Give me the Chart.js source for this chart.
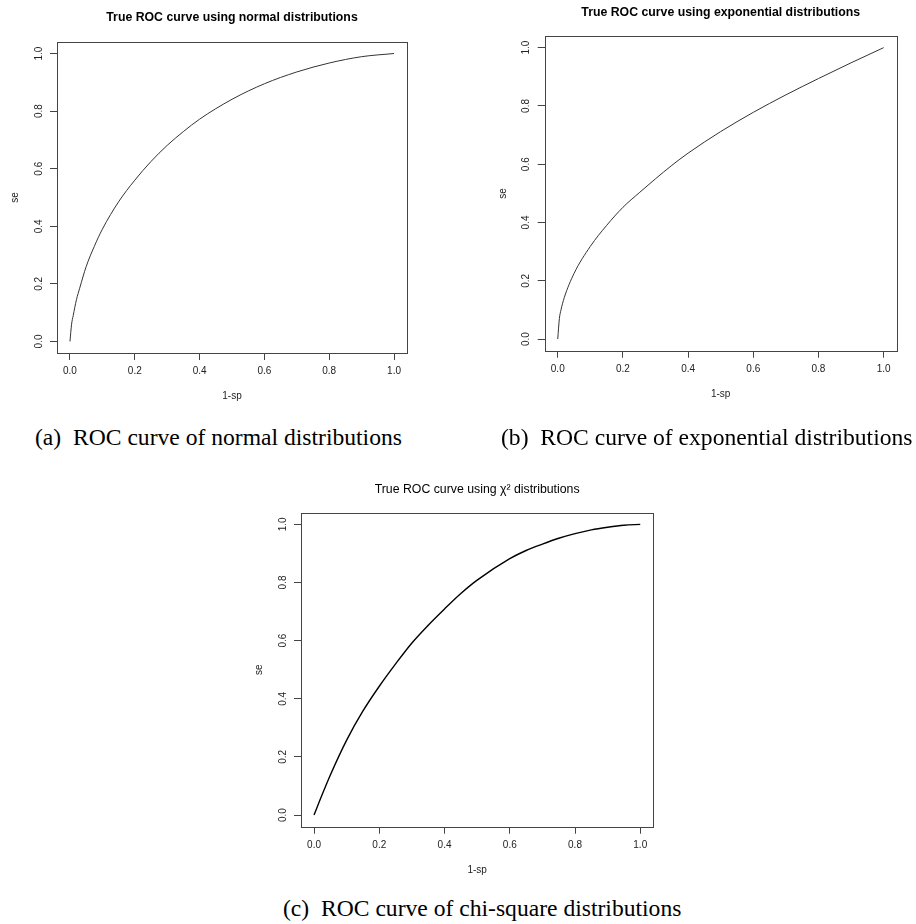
<!DOCTYPE html>
<html>
<head>
<meta charset="utf-8">
<script src="https://cdn.jsdelivr.net/npm/chart.js@4.4.1/dist/chart.umd.min.js"></script>
<style>
body { margin: 0; background: #fff; width: 916px; height: 924px; position: relative; overflow: hidden; }
canvas { position: absolute; }
.cap { position: absolute; font-family: "Liberation Serif", "Times New Roman", serif; font-size: 23.6px; line-height: 26px; color: #000; white-space: nowrap; }
</style>
</head>
<body>
<canvas id="rocNormal" width="460" height="420" style="left:0;top:0"></canvas>
<canvas id="rocExp" width="460" height="420" style="left:456px;top:0"></canvas>
<canvas id="rocChi" width="460" height="425" style="left:230px;top:460px"></canvas>
<div class="cap" style="left:35px;top:424px">(a)&nbsp; ROC curve of normal distributions</div>
<div class="cap" style="left:501px;top:424px">(b)&nbsp; ROC curve of exponential distributions</div>
<div class="cap" style="left:283px;top:895px">(c)&nbsp; ROC curve of chi-square distributions</div>
<script>
const fprNormal = [0, 0.005, 0.01, 0.02, 0.03, 0.05, 0.075, 0.1, 0.15, 0.2, 0.25, 0.3, 0.35, 0.4, 0.5, 0.6, 0.7, 0.8, 0.9, 1.0];
const seNormal  = [0, 0.06, 0.09, 0.145, 0.185, 0.26, 0.33, 0.39, 0.485, 0.56, 0.625, 0.681, 0.729, 0.772, 0.841, 0.895, 0.936, 0.967, 0.989, 1.0];

const fprExp = [0, 0.005, 0.01, 0.02, 0.05, 0.1, 0.15, 0.2, 0.25, 0.3, 0.35, 0.4, 0.5, 0.6, 0.7, 0.8, 0.9, 1.0];
const seExp  = [0, 0.07, 0.10, 0.142, 0.225, 0.318, 0.39, 0.452, 0.502, 0.55, 0.596, 0.638, 0.712, 0.778, 0.838, 0.894, 0.948, 1.0];

const fprChi = [0, 0.02, 0.05, 0.1, 0.15, 0.2, 0.25, 0.3, 0.35, 0.4, 0.45, 0.5, 0.6, 0.65, 0.7, 0.75, 0.8, 0.85, 0.9, 0.95, 1.0];
const seChi  = [0, 0.057, 0.138, 0.258, 0.358, 0.443, 0.52, 0.592, 0.653, 0.709, 0.762, 0.808, 0.882, 0.91, 0.932, 0.952, 0.968, 0.981, 0.99, 0.997, 1.0];

const tickValues = [0, 0.2, 0.4, 0.6, 0.8, 1.0];
const tickLabels = ['0.0', '0.2', '0.4', '0.6', '0.8', '1.0'];

const sans = '"Liberation Sans", Arial, Helvetica, sans-serif';

// box around the plot, rotated y labels and the main title (R style)
const rocFrame = {
    id: 'rocFrame',
    afterDraw(chart, args, opts) {
        const ctx = chart.ctx;
        const a = chart.chartArea;
        const y = chart.scales.y;
        ctx.save();
        ctx.strokeStyle = '#444';
        ctx.lineWidth = 1;
        ctx.strokeRect(Math.round(a.left) + 0.5, Math.round(a.top) + 0.5,
            Math.round(a.right - a.left), Math.round(a.bottom - a.top));

        ctx.fillStyle = '#222';
        ctx.font = '10px ' + sans;
        ctx.textAlign = 'center';
        ctx.textBaseline = 'middle';
        tickValues.forEach((v, i) => {
            ctx.save();
            ctx.translate(a.left - 18, y.getPixelForValue(v));
            ctx.rotate(-Math.PI / 2);
            ctx.fillText(tickLabels[i], 0, 0);
            ctx.restore();
        });

        ctx.fillStyle = '#000';
        ctx.font = (opts.bold ? 'bold ' : '') + '12.3px ' + sans;
        ctx.fillText(opts.text, (a.left + a.right) / 2, a.top - opts.gap);
        ctx.restore();
    }
};

function rocChart(id, fpr, se, o) {
    const canvas = document.getElementById(id);
    const W = canvas.width, H = canvas.height;
    const setTicks = scale => { scale.ticks = tickValues.map(v => ({ value: v })); };
    return new Chart(canvas, {
        type: 'scatter',
        data: {
            datasets: [{
                data: fpr.map((x, i) => ({ x: x, y: se[i] })),
                showLine: true,
                borderColor: o.color,
                borderWidth: o.width,
                pointRadius: 0,
                cubicInterpolationMode: 'monotone'
            }]
        },
        options: {
            responsive: false,
            animation: false,
            layout: { padding: { left: 0, top: o.top, right: W - o.right, bottom: 0 } },
            plugins: {
                legend: { display: false },
                tooltip: { enabled: false },
                rocFrame: { text: o.title, bold: o.bold, gap: o.gap }
            },
            scales: {
                x: {
                    type: 'linear', min: -0.04, max: 1.04,
                    afterBuildTicks: setTicks,
                    afterFit: s => { s.height = H - o.bottom; },
                    grid: { drawOnChartArea: false, drawTicks: true, tickLength: 7, color: '#444' },
                    border: { display: false },
                    ticks: {
                        padding: 5.7, color: '#222', maxRotation: 0, autoSkip: false,
                        font: { family: sans, size: 10 },
                        callback: (v, i) => tickLabels[i]
                    },
                    title: {
                        display: true, text: '1-sp', color: '#222',
                        font: { family: sans, size: 10 },
                        padding: { top: 0, bottom: H - o.bottom - 49.5 }
                    }
                },
                y: {
                    type: 'linear', min: -0.04, max: 1.04,
                    afterBuildTicks: setTicks,
                    afterFit: s => { s.width = o.left; },
                    grid: { drawOnChartArea: false, drawTicks: true, tickLength: 7, color: '#444' },
                    border: { display: false },
                    ticks: { display: false },
                    title: {
                        display: true, text: 'se', color: '#222',
                        font: { family: sans, size: 10 },
                        padding: { top: o.left - 47.5, bottom: 0 }
                    }
                }
            }
        },
        plugins: [rocFrame]
    });
}

rocChart('rocNormal', fprNormal, seNormal, {
    title: 'True ROC curve using normal distributions', bold: true, gap: 24.7,
    left: 57, right: 407, top: 42, bottom: 353, color: '#333', width: 1
});

rocChart('rocExp', fprExp, seExp, {
    title: 'True ROC curve using exponential distributions', bold: true, gap: 23.3,
    left: 88.7, right: 440.7, top: 36, bottom: 350.7, color: '#333', width: 1
});

rocChart('rocChi', fprChi, seChi, {
    title: 'True ROC curve using \u03C7\u00B2 distributions', bold: false, gap: 23.4,
    left: 71, right: 423.3, top: 52.7, bottom: 366.7, color: '#000', width: 1.4
});
</script>
</body>
</html>
